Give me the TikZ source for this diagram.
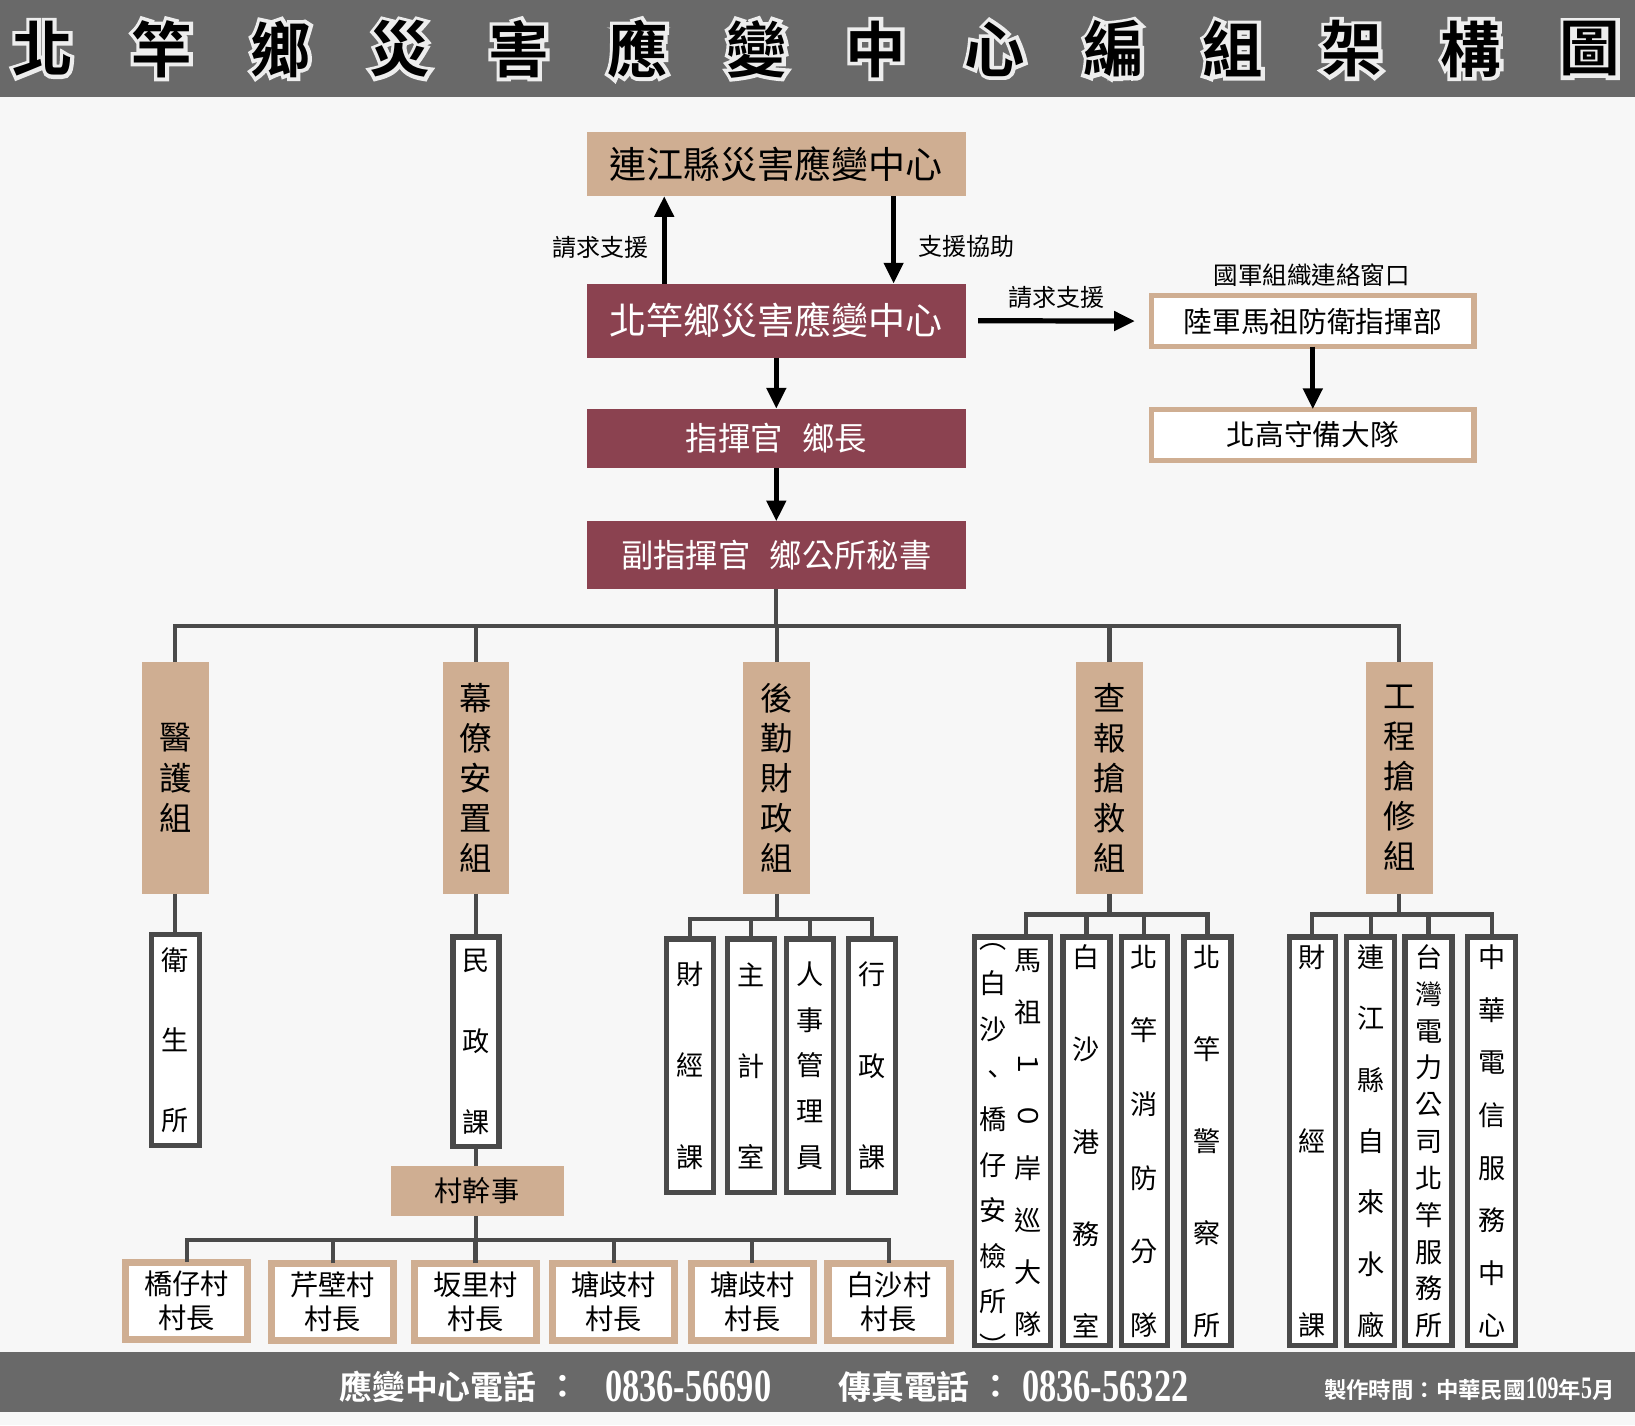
\documentclass[tikz,border=0pt]{standalone}
\usepackage{fontspec}
\usepackage{graphicx}
\setmainfont{Noto Sans CJK TC}[BoldFont={Noto Sans CJK TC Bold}]
\newfontfamily\numfont{Liberation Serif}[BoldFont={Liberation Serif Bold}]
\newfontfamily\glowfam{Noto Sans CJK TC Bold}[FakeBold=12]
\usetikzlibrary{arrows.meta}
\definecolor{hdr}{RGB}{105,105,105}
\definecolor{bgc}{RGB}{247,247,247}
\definecolor{tanc}{RGB}{207,174,146}
\definecolor{maroonc}{RGB}{139,66,80}
\definecolor{lnc}{RGB}{74,74,74}
\newcommand\ttlfont{\bfseries\fontsize{58}{58}\selectfont}
\newcommand\glowfont{\glowfam\fontsize{58}{58}\selectfont}
\newcommand\rot[1]{\rotatebox[origin=c]{-90}{#1}}
\begin{document}
\begin{tikzpicture}[x=1pt,y=-1pt,
  every node/.style={inner sep=0pt,outer sep=0pt},
  tanbox/.style={fill=tanc,draw=none,text=black},
  redbox/.style={fill=maroonc,draw=none,text=white},
  tanframe/.style={draw=tanc,line width=5pt,fill=white,text=black},
  vbox/.style={draw=tanc,line width=7pt,fill=white,text=black,minimum width=117pt,minimum height=74pt,align=center,font=\fontsize{27}{33}\selectfont},
  subbox/.style={draw=lnc,line width=5pt,fill=white,text=black,align=center},
  grp/.style={tanbox,minimum width=64pt,minimum height=222pt,align=center,font=\fontsize{31}{38.5}\selectfont},
  lbl/.style={text=black,font=\fontsize{23}{23}\selectfont},
  arr/.style={draw=black,line width=5pt,-{Triangle[length=20pt,width=18pt]}},
  tree/.style={draw=lnc,line width=4pt},
  ftxt/.style={text=white,font=\bfseries\fontsize{31.5}{32}\selectfont},
  fnum/.style={text=white,font=\numfont\bfseries\fontsize{44}{44}\selectfont},
]
\useasboundingbox (0,0) rectangle (1568,1367);
\fill[bgc] (0,0) rectangle (1568,1367);
% header
\fill[hdr] (0,0) rectangle (1568,93);
\foreach \c [count=\i from 0] in {北,竿,鄉,災,害,應,變,中,心,編,組,架,構,圖} {
  \pgfmathsetmacro\xx{41+114.15*\i}
  \node[text=white!88!hdr,font=\glowfont] (w\i) at (\xx,47) {\c};
  \node[text=black,font=\ttlfont] (t\i) at (\xx,47) {\c};
}
% footer
\fill[hdr] (0,1297) rectangle (1568,1354);
\node[ftxt] (f1) at (420,1330) {應變中心電話};
\node[ftxt] (f2) at (540,1330) {：};
\node[fnum] (f3) at (660,1330) {\scalebox{0.75}[1]{0836-56690}};
\node[ftxt] (f4) at (867,1330) {傳真電話};
\node[ftxt] (f5) at (955,1330) {：};
\node[fnum] (f6) at (1060,1330) {\scalebox{0.75}[1]{0836-56322}};
\node[text=white,font=\bfseries\fontsize{21.5}{22}\selectfont] (f7) at (1409,1332)
  {製作時間：中華民國\scalebox{0.7}[1]{\numfont\bfseries\fontsize{30}{30}\selectfont 109}年\scalebox{0.7}[1]{\numfont\bfseries\fontsize{30}{30}\selectfont 5}月};
% top chain
\node[tanbox,minimum width=363pt,minimum height=61pt,font=\fontsize{35.5}{36}\selectfont] (lj) at (744.5,157.5) {連江縣災害應變中心};
\node[redbox,minimum width=363pt,minimum height=71pt,font=\fontsize{35.5}{36}\selectfont] (bg) at (744.5,307.5) {北竿鄉災害應變中心};
\node[redbox,minimum width=363pt,minimum height=57pt,font=\fontsize{31}{31}\selectfont] (cmd) at (744.5,420.5) {指揮官\hspace{0.6em}鄉長};
\node[redbox,minimum width=363pt,minimum height=65pt,font=\fontsize{31}{31}\selectfont] (dep) at (744.5,532.5) {副指揮官\hspace{0.6em}鄉公所秘書};
\draw[arr] ([xshift=-107.5pt]bg.north) -- ([xshift=-107.5pt]lj.south);
\draw[arr] ([xshift=112.5pt]lj.south) -- ([xshift=112.5pt]bg.north);
\node[lbl] (l1) at (576,237) {請求支援};
\node[lbl] (l2) at (927,236) {支援協助};
\node[tanframe,minimum width=309pt,minimum height=49pt,font=\fontsize{27.5}{28}\selectfont] (lu) at (1259,308) {陸軍馬祖防衛指揮部};
\node[tanframe,minimum width=309pt,minimum height=49pt,font=\fontsize{27.5}{28}\selectfont] (bk) at (1259,417) {北高守備大隊};
\node[lbl,font=\fontsize{23.5}{24}\selectfont] (l4) at (1258,264) {國軍組織連絡窗口};
\draw[arr,shorten <=12pt,shorten >=16pt] (bg.east) -- (lu.west);
\node[lbl] (l3) at (1013,285) {請求支援};
\draw[arr] (lu.south) -- (bk.north);
\draw[arr] (bg.south) -- (cmd.north);
\draw[arr] (cmd.south) -- (dep.north);
% groups
\node[grp] (g1) at (168,746) {醫\\護\\組};
\node[grp] (g2) at (456.5,746) {幕\\僚\\安\\置\\組};
\node[grp] (g3) at (745,746) {後\\勤\\財\\政\\組};
\node[grp] (g4) at (1064,746) {查\\報\\搶\\救\\組};
\node[grp] (g5) at (1342,746) {工\\程\\搶\\修\\組};
\coordinate (bus) at (0,600);
\draw[tree] (dep.south) -- (dep.south |- bus);
\draw[tree] (g1.north) -- (g1.north |- bus) -- (g5.north |- bus) -- (g5.north);
\foreach \g in {g2,g3,g4} \draw[tree] (\g.north) -- (\g.north |- bus);
% medical
\node[subbox,minimum width=46pt,minimum height=202pt,font=\fontsize{26}{77}\selectfont] (ws) at (168,997.5) {衛\\生\\所};
\draw[tree] (g1.south) -- (ws.north);
% staff
\node[subbox,minimum width=44pt,minimum height=201pt,font=\fontsize{26}{77.5}\selectfont] (mz) at (456.5,999) {民\\政\\課};
\draw[tree] (g2.south) -- (mz.north);
\node[tanbox,minimum width=166pt,minimum height=48pt,font=\fontsize{27}{28}\selectfont] (cg) at (457.5,1142) {村幹事};
\draw[tree] (mz.south) -- (mz.south |- cg.north);
\node[vbox] (v1) at (179,1247.5) {橋仔村\\村長};
\node[vbox] (v2) at (319,1248.5) {芹壁村\\村長};
\node[vbox] (v3) at (456,1248.5) {坂里村\\村長};
\node[vbox] (v4) at (588.5,1248.5) {塘歧村\\村長};
\node[vbox] (v5) at (721.5,1248.5) {塘歧村\\村長};
\node[vbox] (v6) at (852.5,1248.5) {白沙村\\村長};
\coordinate (vbus) at (0,1189);
\draw[tree] (mz.south |- cg.south) -- (mz.south |- vbus);
\draw[tree] (v1.north) -- (v1.north |- vbus) -- (v6.north |- vbus) -- (v6.north);
\foreach \v in {v2,v3,v4,v5} \draw[tree] (\v.north) -- (\v.north |- vbus);
% logistics
\node[subbox,minimum width=45pt,minimum height=243pt,font=\fontsize{26}{87.5}\selectfont] (h1) at (661.5,1022) {財\\經\\課};
\node[subbox,minimum width=45pt,minimum height=243pt,font=\fontsize{26}{87.5}\selectfont] (h2) at (720.5,1022) {主\\計\\室};
\node[subbox,minimum width=45pt,minimum height=243pt,font=\fontsize{26}{43.75}\selectfont] (h3) at (776.5,1022) {人\\事\\管\\理\\員};
\node[subbox,minimum width=45pt,minimum height=243pt,font=\fontsize{26}{87.5}\selectfont] (h4) at (836,1022) {行\\政\\課};
\coordinate (hbus) at (0,881);
\draw[tree] (g3.south) -- (g3.south |- hbus);
\draw[tree] (h1.north) -- (h1.north |- hbus) -- (h4.north |- hbus) -- (h4.north);
\foreach \h in {h2,h3} \draw[tree] (\h.north) -- (\h.north |- hbus);
% rescue
\node[subbox,minimum width=73pt,minimum height=392pt] (c1) at (971,1094.5) {};
\node[text=black,align=center,font=\fontsize{26}{43.5}\selectfont] (c1a) at (952,1103) {︵\\白\\沙\\、\\橋\\仔\\安\\檢\\所\\︶};
\node[text=black,align=center,font=\fontsize{26}{50}\selectfont] (c1b) at (986,1096) {馬\\祖\\\rot{１}\\\rot{０}\\岸\\巡\\大\\隊};
\node[subbox,minimum width=45pt,minimum height=392pt,font=\fontsize{26}{88.25}\selectfont] (c2) at (1042,1094.5) {白\\沙\\港\\務\\室};
\node[subbox,minimum width=44pt,minimum height=392pt,font=\fontsize{26}{70.6}\selectfont] (c3) at (1097.5,1094.5) {北\\竿\\消\\防\\分\\隊};
\node[subbox,minimum width=45pt,minimum height=392pt,font=\fontsize{26}{88.25}\selectfont] (c4) at (1158,1094.5) {北\\竿\\警\\察\\所};
\coordinate (cbus) at (0,877);
\draw[tree] (g4.south) -- (g4.south |- cbus);
\draw[tree] ([xshift=13pt]c1.north) -- ([xshift=13pt]c1.north |- cbus) -- (c4.north |- cbus) -- (c4.north);
\foreach \c in {c2,c3} \draw[tree] (\c.north) -- (\c.north |- cbus);
% engineering
\node[subbox,minimum width=44pt,minimum height=392pt,font=\fontsize{26}{176.5}\selectfont] (e1) at (1258.5,1094.5) {財\\經\\課};
\node[subbox,minimum width=46pt,minimum height=392pt,font=\fontsize{26}{58.8}\selectfont] (e2) at (1314.5,1094.5) {連\\江\\縣\\自\\來\\水\\廠};
\node[subbox,minimum width=45pt,minimum height=392pt,font=\fontsize{26}{35.3}\selectfont] (e3) at (1370,1094.5) {台\\灣\\電\\力\\公\\司\\北\\竿\\服\\務\\所};
\node[subbox,minimum width=46pt,minimum height=392pt,font=\fontsize{26}{50.4}\selectfont] (e4) at (1430.5,1094.5) {中\\華\\電\\信\\服\\務\\中\\心};
\coordinate (ebus) at (0,877);
\draw[tree] (g5.south) -- (g5.south |- ebus);
\draw[tree] (e1.north) -- (e1.north |- ebus) -- (e4.north |- ebus) -- (e4.north);
\foreach \e in {e2,e3} \draw[tree] (\e.north) -- (\e.north |- ebus);
\end{tikzpicture}
\end{document}
